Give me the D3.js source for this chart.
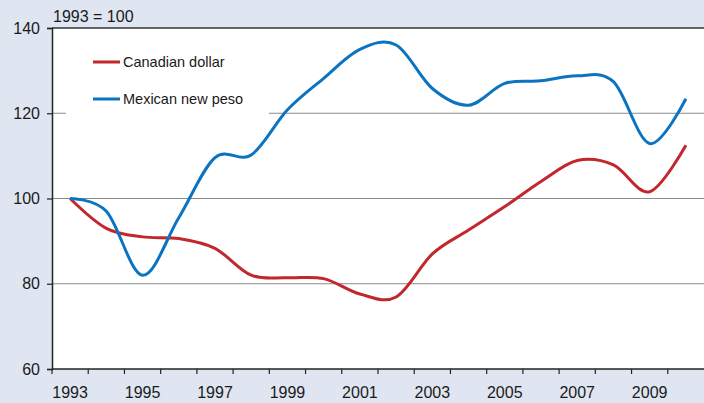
<!DOCTYPE html>
<html>
<head>
<meta charset="utf-8">
<script src="https://cdn.jsdelivr.net/npm/d3@7"></script>
<style>
  body { margin: 0; background: #dfe6f2; }
  svg { display: block; font-family: "Liberation Sans", Arial, sans-serif; }
</style>
</head>
<body>
<div id="chart"></div>
<script>
const years = d3.range(1993, 2011);
const canadianDollar = [100, 93, 91, 90.6, 88.3, 82, 81.4, 81.2, 77.6, 76.9, 87, 92.6, 98.1, 104, 108.9, 107.9, 101.6, 112.5];
const mexicanPeso = [100, 97, 82, 95.5, 109.6, 110.2, 120.8, 128.2, 135, 136, 125.8, 121.9, 127, 127.6, 128.8, 127.4, 112.9, 123.4];
const yTicks = [60, 80, 100, 120, 140];
const xLabelYears = [1993, 1995, 1997, 1999, 2001, 2003, 2005, 2007, 2009];
const seriesNames = ["Canadian dollar", "Mexican new peso"];
const seriesColors = ["#c1272d", "#0b74c1"];

const W = 704, H = 403;
const m = { top: 28, right: 0, bottom: 34, left: 52 };

const svg = d3.select("#chart").append("svg")
  .attr("width", W)
  .attr("height", H);

const x = d3.scaleLinear().domain([1992.5, 2010.5]).range([m.left, W - m.right]);
const y = d3.scaleLinear().domain([60, 140]).range([H - m.bottom, m.top]);

// plot background
svg.append("rect")
  .attr("x", m.left).attr("y", m.top)
  .attr("width", W - m.right - m.left).attr("height", y(60) - m.top)
  .attr("fill", "#fff");

// gridlines
svg.append("g")
  .selectAll("line")
  .data(yTicks.filter(d => d > 60 && d < 140))
  .join("line")
  .attr("x1", m.left).attr("x2", W - m.right)
  .attr("y1", d => y(d)).attr("y2", d => y(d))
  .attr("stroke", "#8a8a8a")
  .attr("stroke-width", 1.2);

// top border
svg.append("line")
  .attr("x1", m.left).attr("x2", W - m.right)
  .attr("y1", y(140)).attr("y2", y(140))
  .attr("stroke", "#333").attr("stroke-width", 1.5);

// legend box (hides grid behind it)
const legG = svg.append("g");
legG.append("rect")
  .attr("x", 66).attr("y", 40).attr("width", 203).attr("height", 77)
  .attr("fill", "#fff");

seriesNames.forEach((name, i) => {
  const ly = 62 + i * 37;
  legG.append("line")
    .attr("x1", 93).attr("x2", 120)
    .attr("y1", ly).attr("y2", ly)
    .attr("stroke", seriesColors[i]).attr("stroke-width", 3);
  legG.append("text")
    .attr("x", 123).attr("y", ly)
    .attr("dy", "0.36em")
    .attr("font-size", 14.5)
    .attr("fill", "#1a1a1a")
    .text(name);
});

// y axis
const yAxis = svg.append("g")
  .attr("transform", `translate(${m.left},0)`)
  .call(d3.axisLeft(y).tickValues(yTicks).tickSize(5).tickPadding(7).tickFormat(d3.format("d")));
yAxis.select(".domain").attr("stroke", "#222").attr("stroke-width", 1.5);
yAxis.selectAll(".tick line").attr("stroke", "#222").attr("stroke-width", 1.2);
yAxis.selectAll("text").attr("font-size", 16).attr("fill", "#1a1a1a").attr("font-family", "Liberation Sans, Arial, sans-serif");

// x axis: ticks at year boundaries, labels at year centres
const xG = svg.append("g").attr("transform", `translate(0,${y(60)})`);
xG.append("line")
  .attr("x1", m.left).attr("x2", W - m.right)
  .attr("stroke", "#222").attr("stroke-width", 1.5);
xG.selectAll(".xt")
  .data(d3.range(1992.5, 2010.5, 1))
  .join("line")
  .attr("class", "xt")
  .attr("x1", d => x(d)).attr("x2", d => x(d))
  .attr("y1", 0).attr("y2", 5)
  .attr("stroke", "#222").attr("stroke-width", 1.2);
xG.selectAll(".xl")
  .data(xLabelYears)
  .join("text")
  .attr("class", "xl")
  .attr("x", d => x(d)).attr("y", 29)
  .attr("text-anchor", "middle")
  .attr("font-size", 16)
  .attr("fill", "#1a1a1a")
  .text(d => d);

// unit label
svg.append("text")
  .attr("x", 53).attr("y", 22)
  .attr("font-size", 16)
  .attr("fill", "#1a1a1a")
  .text("1993 = 100");

// lines
const line = d3.line()
  .x((d, i) => x(years[i]))
  .y(d => y(d))
  .curve(d3.curveCatmullRom.alpha(0));

[canadianDollar, mexicanPeso].forEach((vals, i) => {
  svg.append("path")
    .attr("d", line(vals))
    .attr("fill", "none")
    .attr("stroke", seriesColors[i])
    .attr("stroke-width", 3);
});
</script>
</body>
</html>
